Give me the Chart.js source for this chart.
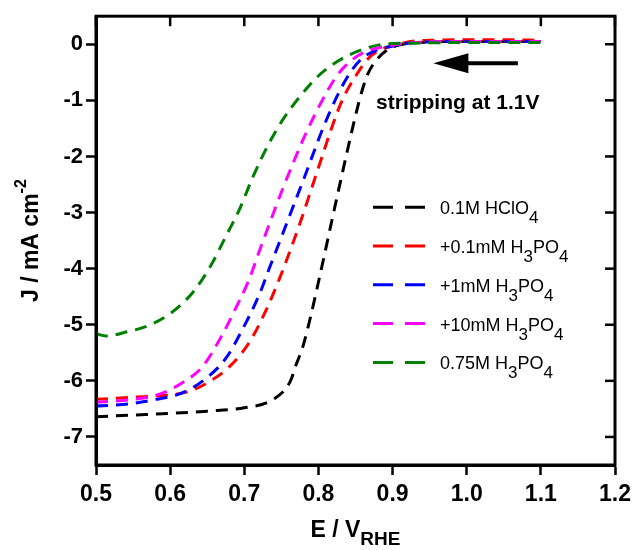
<!DOCTYPE html>
<html>
<head>
<meta charset="utf-8">
<script src="https://cdn.jsdelivr.net/npm/chart.js@4"></script>
<style>
html, body { margin: 0; padding: 0; background: #fff; }
</style>
</head>
<body>
<canvas id="myChart" width="637" height="550"></canvas>
<script>
// values (E in V vs RHE, J in mA cm-2)
var hclo4E = [0.5, 0.55, 0.6, 0.65, 0.7, 0.739, 0.762, 0.770, 0.779, 0.789, 0.799, 0.809, 0.818, 0.829, 0.840, 0.851, 0.859, 0.867, 0.879, 0.897, 0.924, 0.95, 1.0, 1.05, 1.1];
var hclo4J = [-6.64, -6.61, -6.58, -6.54, -6.48, -6.33, -6.01, -5.71, -5.39, -4.88, -4.30, -3.70, -3.15, -2.49, -1.84, -1.22, -0.82, -0.52, -0.27, -0.07, 0.02, 0.04, 0.05, 0.05, 0.05];

var p01E = [0.5, 0.554, 0.590, 0.625, 0.652, 0.679, 0.706, 0.728, 0.748, 0.764, 0.778, 0.790, 0.805, 0.816, 0.832, 0.852, 0.866, 0.880, 0.903, 0.924, 0.95, 1.0, 1.05, 1.1];
var p01J = [-6.33, -6.29, -6.26, -6.19, -6.02, -5.76, -5.33, -4.78, -4.16, -3.60, -3.08, -2.60, -2.00, -1.56, -1.00, -0.53, -0.27, -0.12, -0.02, 0.05, 0.07, 0.08, 0.08, 0.07];

var p1E = [0.5, 0.545, 0.581, 0.617, 0.648, 0.675, 0.698, 0.720, 0.733, 0.750, 0.766, 0.782, 0.793, 0.806, 0.825, 0.843, 0.859, 0.874, 0.897, 0.93, 1.0, 1.05, 1.1];
var p1J = [-6.45, -6.41, -6.33, -6.21, -5.96, -5.60, -5.07, -4.47, -4.02, -3.44, -2.89, -2.34, -1.95, -1.50, -0.93, -0.50, -0.25, -0.13, -0.04, 0.03, 0.05, 0.05, 0.05];

var p10E = [0.5, 0.55, 0.585, 0.617, 0.644, 0.669, 0.686, 0.705, 0.720, 0.739, 0.752, 0.768, 0.782, 0.802, 0.825, 0.847, 0.866, 0.890, 0.93, 1.0, 1.05, 1.1];
var p10J = [-6.38, -6.33, -6.24, -6.03, -5.74, -5.21, -4.77, -4.24, -3.70, -3.02, -2.57, -2.05, -1.62, -1.08, -0.56, -0.26, -0.12, -0.04, 0.03, 0.05, 0.05, 0.05];

var p750E = [0.5, 0.5135, 0.5405, 0.5715, 0.6012, 0.6308, 0.6551, 0.6753, 0.6929, 0.7118, 0.7320, 0.7522, 0.7752, 0.7994, 0.8264, 0.8561, 0.8871, 0.9235, 1.0, 1.05, 1.1];
var p750J = [-5.16, -5.20, -5.13, -5.01, -4.79, -4.42, -3.94, -3.42, -2.96, -2.36, -1.80, -1.34, -0.93, -0.57, -0.30, -0.11, 0.0, 0.02, 0.03, 0.03, 0.03];

var seriesNames = ['0.1M HClO_4', '+0.1mM H_3PO_4', '+1mM H_3PO_4', '+10mM H_3PO_4', '0.75M H_3PO_4'];
var seriesColors = ['#000000', '#ff0000', '#0000ff', '#ff00ff', '#008000'];
var seriesE = [hclo4E, p01E, p1E, p10E, p750E];
var seriesJ = [hclo4J, p01J, p1J, p10J, p750J];

var xTickValues = [0.5, 0.6, 0.7, 0.8, 0.9, 1.0, 1.1, 1.2];
var yTickValues = [-7, -6, -5, -4, -3, -2, -1, 0];
var noteText = 'stripping at 1.1V';

var FONT = '"Liberation Sans", Arial, sans-serif';

function toPoints(xs, ys){
	return xs.map(function(x, i){ return {x: x, y: ys[i]}; });
}

// text with "_x" as subscript, split into parts
function splitSub(label){
	let parts = [];
	let buf = '';
	for (let i = 0; i < label.length; i++){
		if (label[i] === '_'){
			if (buf) parts.push({t: buf, sub: false});
			buf = '';
			parts.push({t: label[i + 1], sub: true});
			i++;
		} else {
			buf += label[i];
		}
	}
	if (buf) parts.push({t: buf, sub: false});
	return parts;
}

function drawParts(ctx, parts, x, y){
	parts.forEach(function(p){
		ctx.font = p.font;
		ctx.fillText(p.t, x, y + p.dy);
		x += ctx.measureText(p.t).width;
	});
	return x;
}
function partsWidth(ctx, parts){
	let w = 0;
	parts.forEach(function(p){ ctx.font = p.font; w += ctx.measureText(p.t).width; });
	return w;
}

var datasets = seriesNames.map(function(name, i){
	return {
		label: name,
		data: toPoints(seriesE[i], seriesJ[i]),
		borderColor: seriesColors[i],
		backgroundColor: seriesColors[i],
		borderWidth: 3,
		borderDash: [12, 8],
		pointRadius: 0,
		fill: false,
		cubicInterpolationMode: 'monotone',
		order: seriesNames.length - i
	};
});

var extras = {
	id: 'extras',
	afterDraw: function(chart){
		let ctx = chart.ctx;
		let a = chart.chartArea;
		let xs = chart.scales.x, ys = chart.scales.y;
		ctx.save();
		ctx.setLineDash([]);
		ctx.strokeStyle = '#000';
		ctx.fillStyle = '#000';

		// frame
		ctx.lineWidth = 3;
		ctx.strokeRect(a.left, a.top, a.right - a.left, a.bottom - a.top);

		// mirrored inward ticks on top / right
		ctx.lineWidth = 2.5;
		xTickValues.forEach(function(v){
			let px = xs.getPixelForValue(v);
			ctx.beginPath(); ctx.moveTo(px, a.top); ctx.lineTo(px, a.top + 10); ctx.stroke();
		});
		yTickValues.forEach(function(v){
			let py = ys.getPixelForValue(v);
			ctx.beginPath(); ctx.moveTo(a.right, py); ctx.lineTo(a.right - 10, py); ctx.stroke();
		});

		// arrow
		let ay = ys.getPixelForValue(-0.34);
		let tipX = xs.getPixelForValue(0.955);
		let tailX = xs.getPixelForValue(1.069);
		ctx.lineWidth = 4;
		ctx.beginPath(); ctx.moveTo(tipX + 30, ay); ctx.lineTo(tailX, ay); ctx.stroke();
		ctx.beginPath();
		ctx.moveTo(tipX, ay);
		ctx.lineTo(tipX + 35, ay - 10);
		ctx.lineTo(tipX + 35, ay + 10);
		ctx.closePath();
		ctx.fill();

		// note
		ctx.font = 'bold 21px ' + FONT;
		ctx.textBaseline = 'alphabetic';
		ctx.fillText(noteText, xs.getPixelForValue(0.8777), ys.getPixelForValue(-1.15));

		// legend
		let lx = a.left + 277;
		seriesNames.forEach(function(name, i){
			let ry = a.top + 191 + i * 38.8;
			ctx.strokeStyle = seriesColors[i];
			ctx.lineWidth = 3;
			ctx.setLineDash([20, 12]);
			ctx.beginPath(); ctx.moveTo(lx, ry); ctx.lineTo(lx + 52, ry); ctx.stroke();
			ctx.setLineDash([]);
			let parts = splitSub(name).map(function(p){
				return {t: p.t, font: (p.sub ? '17px ' : '18px ') + FONT, dy: p.sub ? 9 : 0};
			});
			ctx.fillStyle = '#000';
			drawParts(ctx, parts, lx + 67, ry + 7);
		});

		// x title
		let xt = [
			{t: 'E / V', font: 'bold 23px ' + FONT, dy: 0},
			{t: 'RHE', font: 'bold 19px ' + FONT, dy: 8}
		];
		let cx = (a.left + a.right) / 2;
		drawParts(ctx, xt, cx - partsWidth(ctx, xt) / 2, 537);

		// y title
		let yt = [
			{t: 'J / mA cm', font: 'bold 23px ' + FONT, dy: 0},
			{t: '-2', font: 'bold 16px ' + FONT, dy: -12}
		];
		ctx.translate(38, (a.top + a.bottom) / 2);
		ctx.rotate(-Math.PI / 2);
		drawParts(ctx, yt, -partsWidth(ctx, yt) / 2, 0);

		ctx.restore();
	}
};

var ctx = document.getElementById('myChart').getContext('2d');
var chart = new Chart(ctx, {
	type: 'line',
	data: { datasets: datasets },
	options: {
		responsive: false,
		animation: false,
		layout: { padding: { top: 14, right: 22, left: 0, bottom: 0 } },
		plugins: { legend: { display: false }, tooltip: { enabled: false } },
		scales: {
			x: {
				type: 'linear',
				min: 0.5,
				max: 1.2,
				afterBuildTicks: function(scale){ scale.ticks = xTickValues.map(function(v){ return {value: v}; }); },
				afterFit: function(scale){ scale.height = 85; },
				ticks: {
					color: '#000',
					padding: 6,
					maxRotation: 0,
					font: { family: FONT, size: 23, weight: 'bold' },
					callback: function(v){ return Number(v).toFixed(1); }
				},
				grid: { drawOnChartArea: false, drawTicks: true, tickLength: 10, tickWidth: 2.5, color: '#000' },
				border: { display: true, color: '#000', width: 3 }
			},
			y: {
				type: 'linear',
				min: -7.5,
				max: 0.5,
				afterBuildTicks: function(scale){ scale.ticks = yTickValues.map(function(v){ return {value: v}; }); },
				afterFit: function(scale){ scale.width = 96; },
				ticks: {
					color: '#000',
					padding: 3,
					font: { family: FONT, size: 22, weight: 'bold' },
					callback: function(v){ return String(v); }
				},
				grid: { drawOnChartArea: false, drawTicks: true, tickLength: 10, tickWidth: 2.5, color: '#000' },
				border: { display: true, color: '#000', width: 3 }
			}
		}
	},
	plugins: [extras]
});
</script>
</body>
</html>
